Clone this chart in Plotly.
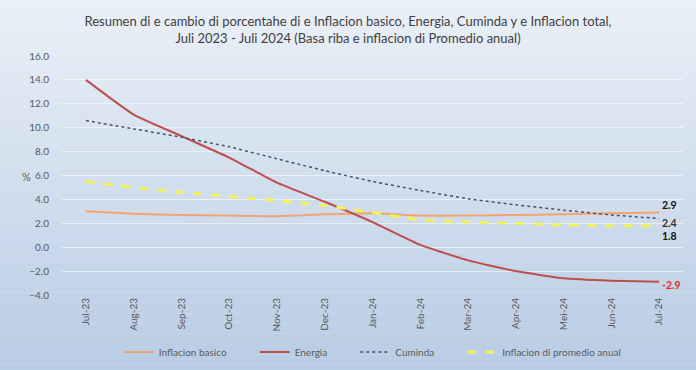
import plotly.graph_objects as go

months = ["Jul-23", "Aug-23", "Sep-23", "Oct-23", "Nov-23", "Dec-23", "Jan-24",
          "Feb-24", "Mar-24", "Apr-24", "Mei-24", "Jun-24", "Jul-24"]
inflacion_basico = [3.0, 2.8, 2.7, 2.65, 2.6, 2.75, 2.85, 2.65, 2.65, 2.7, 2.75, 2.85, 2.9]
energia = [14.0, 11.1, 9.3, 7.5, 5.4, 3.8, 2.1, 0.2, -1.1, -2.0, -2.6, -2.8, -2.9]
cuminda = [10.6, 9.9, 9.2, 8.4, 7.4, 6.4, 5.5, 4.75, 4.05, 3.55, 3.1, 2.7, 2.4]
promedio_anual = [5.5, 5.0, 4.6, 4.25, 3.9, 3.5, 2.9, 2.3, 2.1, 2.0, 1.85, 1.8, 1.8]
yticks = [-4, -2, 0, 2, 4, 6, 8, 10, 12, 14, 16]
end_labels = ["2.9", "2.4", "1.8", "-2.9"]

pad = "\u00a0" * 9
sm = 0.45
fig = go.Figure()
fig.add_trace(go.Scatter(x=months, y=inflacion_basico, mode="lines", name="Inflacion basico" + pad,
                         line=dict(color="#f2a572", width=2, shape="spline", smoothing=sm)))
fig.add_trace(go.Scatter(x=months, y=energia, mode="lines", name="Energia" + pad,
                         line=dict(color="#bb4f4d", width=2, shape="spline", smoothing=sm)))
fig.add_trace(go.Scatter(x=months, y=cuminda, mode="lines", name="Cuminda" + pad,
                         line=dict(color="#44546a", width=1.5, dash="dot", shape="spline", smoothing=sm)))
fig.add_trace(go.Scatter(x=months, y=promedio_anual, mode="lines", name="Inflacion di promedio anual",
                         line=dict(color="#f2f25a", width=3, dash="dash", shape="spline", smoothing=sm)))

# gradient background bands
n = 40
top = (236, 241, 248)
bot = (182, 203, 227)
shapes = []
for i in range(n):
    t = i / (n - 1)
    c = tuple(int(top[k] + (bot[k] - top[k]) * t) for k in range(3))
    shapes.append(dict(type="rect", xref="paper", yref="paper", layer="below",
                       x0=-0.2, x1=1.1, y0=1.3 - (i + 1) * (1.72 / n), y1=1.3 - i * (1.72 / n),
                       fillcolor="rgb(%d,%d,%d)" % c, line=dict(width=0)))

label_y = [3.5, 2.0, 0.95, -3.2]
label_col = ["#111111", "#333333", "#111111", "#e8282b"]
annotations = []
for txt, ly, col in zip(end_labels, label_y, label_col):
    annotations.append(dict(x=months[-1], y=ly, text="<b>%s</b>" % txt, showarrow=False,
                            xanchor="left", xshift=1, font=dict(size=10.5, color=col)))
annotations.append(dict(xref="paper", yref="paper", x=(20 - 62) / 621, y=(295 - 176) / 239,
                        text="%", showarrow=False, font=dict(size=11, color="#595959")))

fig.update_layout(
    width=696, height=370,
    margin=dict(l=62, r=13, t=56, b=75),
    paper_bgcolor="rgb(226,234,244)",
    plot_bgcolor="rgba(0,0,0,0)",
    shapes=shapes,
    annotations=annotations,
    font=dict(family="Lato, sans-serif", color="#595959"),
    title=dict(text="Resumen di e cambio di porcentahe di e Inflacion basico, Energia, Cuminda y e Inflacion total,<br>Juli 2023 - Juli 2024 (Basa riba e inflacion di Promedio anual)",
               x=0.5, xanchor="center", y=1 - 26 / 370, yanchor="middle",
               font=dict(size=13, color="#404040")),
    xaxis=dict(tickangle=-90, tickfont=dict(size=10, color="#595959"), showgrid=False,
               showline=False, ticks="", range=[-0.5, 12.5], automargin=False),
    yaxis=dict(range=[-4, 16], tickvals=yticks, tickformat=".1f", automargin=False,
               tickfont=dict(size=10, color="#595959"), gridcolor="rgba(255,255,255,0.55)",
               zeroline=False, showline=False, ticks="", ticklabelstandoff=12),
    legend=dict(orientation="h", x=0.535, xanchor="center", xref="container",
                y=1 - 352 / 370, yanchor="middle", yref="container",
                font=dict(size=10, color="#595959"), bgcolor="rgba(0,0,0,0)"),
    showlegend=True,
)
fig.write_html("out.html", config={"displayModeBar": False},
               post_script="document.body.style.margin='0';document.body.style.overflow='hidden';")
